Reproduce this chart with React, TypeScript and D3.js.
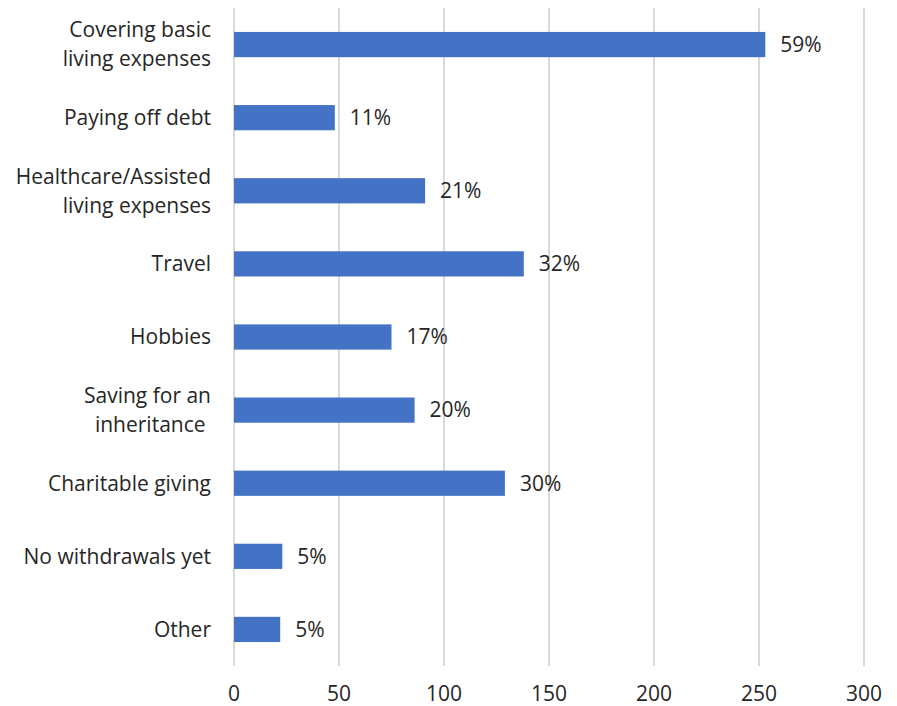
import React from "react";
import * as d3 from "d3";

const categories: string[][] = [
  ["Covering basic", "living expenses"],
  ["Paying off debt"],
  ["Healthcare/Assisted", "living expenses"],
  ["Travel"],
  ["Hobbies"],
  ["Saving for an", "inheritance "],
  ["Charitable giving"],
  ["No withdrawals yet"],
  ["Other"],
];
const values: number[] = [253, 48, 91, 138, 75, 86, 129, 23, 22];
const pctLabels: string[] = ["59%", "11%", "21%", "32%", "17%", "20%", "30%", "5%", "5%"];
const xTicks: number[] = [0, 50, 100, 150, 200, 250, 300];

const W = 897;
const H = 706;
const M = { left: 234, right: 33, top: 8, bottom: 40 };
const FONT = "'Open Sans', Lato, sans-serif";
const TEXT = "#262626";
const FS = 21;

export default function App() {
  const x = d3.scaleLinear().domain([0, 300]).range([M.left, M.left + 630]);
  const keys = categories.map((_, i) => String(i));
  const y = d3
    .scaleBand<string>()
    .domain(keys)
    .range([M.top, H - M.bottom])
    .paddingInner(0.655)
    .paddingOuter(0.3275);
  const bw = y.bandwidth();

  return (
    <svg
      width={W}
      height={H}
      style={{ position: "absolute", left: 0, top: 0, background: "#fff" }}
      fontFamily={FONT}
    >
      {xTicks.map((t) => (
        <g key={t}>
          <line
            x1={x(t)}
            x2={x(t)}
            y1={M.top}
            y2={H - M.bottom}
            stroke="#d9d9d9"
            strokeWidth={2}
          />
          <text x={x(t)} y={701} textAnchor="middle" fontSize={FS} fill={TEXT}>
            {t}
          </text>
        </g>
      ))}
      {values.map((v, i) => {
        const yy = y(keys[i])!;
        const cy = yy + bw / 2;
        const lines = categories[i];
        const lh = 29;
        return (
          <g key={i}>
            <rect x={x(0)} y={yy} width={x(v) - x(0)} height={bw} fill="#4472C4" />
            <text
              x={x(v) + 15}
              y={cy}
              dy="0.35em"
              fontSize={FS}
              fill={TEXT}
            >
              {pctLabels[i]}
            </text>
            <text
              x={211}
              textAnchor="end"
              fontSize={FS}
              fill={TEXT}
              style={{ whiteSpace: "pre" }}
            >
              {lines.map((ln, j) => (
                <tspan
                  key={j}
                  x={211}
                  y={cy + (j - (lines.length - 1) / 2) * lh}
                  dy="0.35em"
                >
                  {ln}
                </tspan>
              ))}
            </text>
          </g>
        );
      })}
    </svg>
  );
}
